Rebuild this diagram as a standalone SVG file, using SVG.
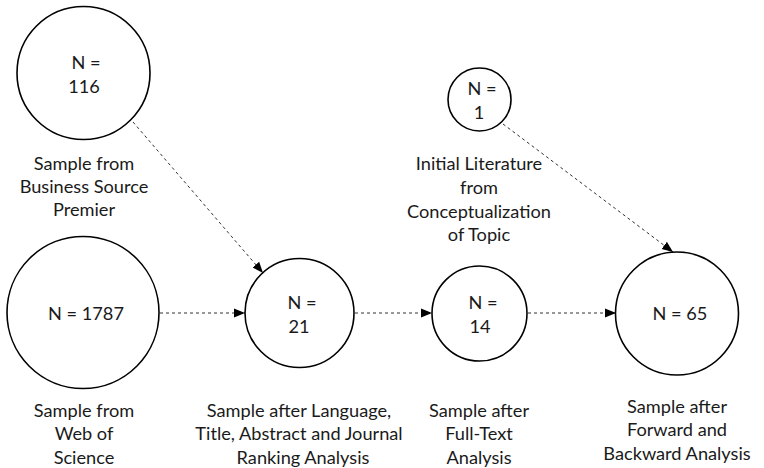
<svg xmlns="http://www.w3.org/2000/svg" width="764" height="468" viewBox="0 0 764 468">
<style>
.node circle{fill:#fff;stroke:#000;stroke-width:1.6}
text{font-family:Lato,"Open Sans",sans-serif;font-size:18.2px;fill:#1a1a1a;text-anchor:middle;dominant-baseline:central}
.conn line{stroke:#333;stroke-width:1;stroke-dasharray:3,3;fill:none}
</style>
<defs>
<marker id="ah" viewBox="0 0 10 10" refX="10" refY="5" markerWidth="11" markerHeight="11" markerUnits="userSpaceOnUse" orient="auto">
<path d="M0,1 L10,5 L0,9 Z" fill="#000"/>
</marker>
</defs>
<rect width="764" height="468" fill="#fff"/>
<g class="conn">
<line x1="133" y1="122" x2="263" y2="273" marker-end="url(#ah)"/>
<line x1="160" y1="313" x2="245" y2="313" marker-end="url(#ah)"/>
<line x1="355" y1="313" x2="432" y2="313" marker-end="url(#ah)"/>
<line x1="528" y1="313" x2="616" y2="313" marker-end="url(#ah)"/>
<line x1="503" y1="124" x2="673" y2="252" marker-end="url(#ah)"/>
</g>
<g id="n116" class="node">
<circle cx="83.5" cy="73" r="66.5"/>
<text x="86" y="62">N =</text>
<text x="84" y="86">116</text>
<text x="84" y="163">Sample from</text>
<text x="84" y="186">Business Source</text>
<text x="84" y="209">Premier</text>
</g>
<g id="n1787" class="node">
<circle cx="83" cy="312.5" r="76"/>
<text x="86" y="313">N = 1787</text>
<text x="84" y="410">Sample from</text>
<text x="84" y="433">Web of</text>
<text x="84" y="457">Science</text>
</g>
<g id="n21" class="node">
<circle cx="299.5" cy="313" r="54.5"/>
<text x="302" y="302">N =</text>
<text x="299" y="326">21</text>
<text x="299" y="410">Sample after Language,</text>
<text x="299" y="433">Title, Abstract and Journal</text>
<text x="303" y="457">Ranking Analysis</text>
</g>
<g id="n14" class="node">
<circle cx="479.5" cy="313.5" r="47.5"/>
<text x="483" y="302">N =</text>
<text x="480" y="326">14</text>
<text x="479" y="410">Sample after</text>
<text x="479" y="433">Full-Text</text>
<text x="479" y="457">Analysis</text>
</g>
<g id="n1" class="node">
<circle cx="479.5" cy="99.5" r="31.5"/>
<text x="482" y="88">N =</text>
<text x="479" y="112">1</text>
<text x="479" y="163">Initial Literature</text>
<text x="479" y="187">from</text>
<text x="479" y="211">Conceptualization</text>
<text x="479" y="234">of Topic</text>
</g>
<g id="n65" class="node">
<circle cx="677" cy="313.5" r="61.5"/>
<text x="680" y="313">N = 65</text>
<text x="677" y="406">Sample after</text>
<text x="677" y="429">Forward and</text>
<text x="677" y="453">Backward Analysis</text>
</g>
</svg>
